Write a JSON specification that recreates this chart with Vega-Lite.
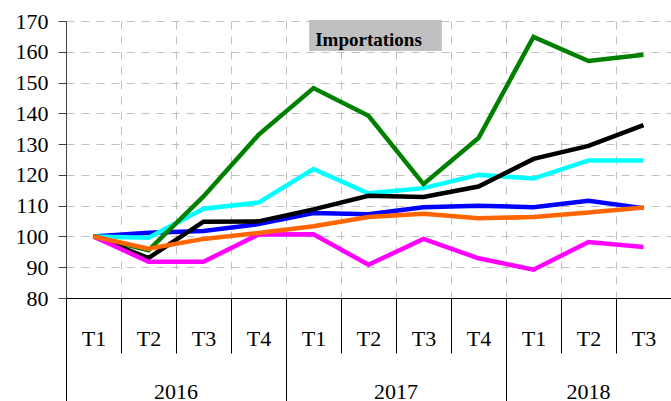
{
  "$schema": "https://vega.github.io/schema/vega-lite/v6.json",
  "autosize": "none",
  "width": 605,
  "height": 277,
  "padding": {"left": 66, "top": 21, "right": 0, "bottom": 103},
  "background": "white",
  "config": {
    "view": {"stroke": null},
    "font": "Liberation Serif"
  },
  "datasets": {
    "series": [
      {"period": "2016 T1", "serie": "A", "value": 100},
      {"period": "2016 T2", "serie": "A", "value": 101.2},
      {"period": "2016 T3", "serie": "A", "value": 101.8},
      {"period": "2016 T4", "serie": "A", "value": 104.0},
      {"period": "2017 T1", "serie": "A", "value": 107.6},
      {"period": "2017 T2", "serie": "A", "value": 107.2},
      {"period": "2017 T3", "serie": "A", "value": 109.5},
      {"period": "2017 T4", "serie": "A", "value": 110.0},
      {"period": "2018 T1", "serie": "A", "value": 109.5},
      {"period": "2018 T2", "serie": "A", "value": 111.6},
      {"period": "2018 T3", "serie": "A", "value": 109.2},
      {"period": "2016 T1", "serie": "B", "value": 100},
      {"period": "2016 T2", "serie": "B", "value": 99.6},
      {"period": "2016 T3", "serie": "B", "value": 109.0},
      {"period": "2016 T4", "serie": "B", "value": 111.0},
      {"period": "2017 T1", "serie": "B", "value": 121.9},
      {"period": "2017 T2", "serie": "B", "value": 114.0},
      {"period": "2017 T3", "serie": "B", "value": 115.7},
      {"period": "2017 T4", "serie": "B", "value": 120.0},
      {"period": "2018 T1", "serie": "B", "value": 118.8},
      {"period": "2018 T2", "serie": "B", "value": 124.7},
      {"period": "2018 T3", "serie": "B", "value": 124.7},
      {"period": "2016 T1", "serie": "C", "value": 100},
      {"period": "2016 T2", "serie": "C", "value": 95.5},
      {"period": "2016 T3", "serie": "C", "value": 113.0},
      {"period": "2016 T4", "serie": "C", "value": 133.0},
      {"period": "2017 T1", "serie": "C", "value": 148.2},
      {"period": "2017 T2", "serie": "C", "value": 139.2},
      {"period": "2017 T3", "serie": "C", "value": 117.0},
      {"period": "2017 T4", "serie": "C", "value": 132.0},
      {"period": "2018 T1", "serie": "C", "value": 164.8},
      {"period": "2018 T2", "serie": "C", "value": 157.0},
      {"period": "2018 T3", "serie": "C", "value": 159.0},
      {"period": "2016 T1", "serie": "D", "value": 100},
      {"period": "2016 T2", "serie": "D", "value": 93.0},
      {"period": "2016 T3", "serie": "D", "value": 104.8},
      {"period": "2016 T4", "serie": "D", "value": 104.9},
      {"period": "2017 T1", "serie": "D", "value": 108.8},
      {"period": "2017 T2", "serie": "D", "value": 113.2},
      {"period": "2017 T3", "serie": "D", "value": 112.8},
      {"period": "2017 T4", "serie": "D", "value": 116.2},
      {"period": "2018 T1", "serie": "D", "value": 125.2},
      {"period": "2018 T2", "serie": "D", "value": 129.4},
      {"period": "2018 T3", "serie": "D", "value": 136.2},
      {"period": "2016 T1", "serie": "E", "value": 100},
      {"period": "2016 T2", "serie": "E", "value": 91.8},
      {"period": "2016 T3", "serie": "E", "value": 91.8},
      {"period": "2016 T4", "serie": "E", "value": 100.6},
      {"period": "2017 T1", "serie": "E", "value": 100.7},
      {"period": "2017 T2", "serie": "E", "value": 90.8},
      {"period": "2017 T3", "serie": "E", "value": 99.2},
      {"period": "2017 T4", "serie": "E", "value": 92.9},
      {"period": "2018 T1", "serie": "E", "value": 89.2},
      {"period": "2018 T2", "serie": "E", "value": 98.2},
      {"period": "2018 T3", "serie": "E", "value": 96.6},
      {"period": "2016 T1", "serie": "F", "value": 100},
      {"period": "2016 T2", "serie": "F", "value": 96.0},
      {"period": "2016 T3", "serie": "F", "value": 99.2},
      {"period": "2016 T4", "serie": "F", "value": 101.1},
      {"period": "2017 T1", "serie": "F", "value": 103.3},
      {"period": "2017 T2", "serie": "F", "value": 106.3},
      {"period": "2017 T3", "serie": "F", "value": 107.4},
      {"period": "2017 T4", "serie": "F", "value": 105.9},
      {"period": "2018 T1", "serie": "F", "value": 106.3},
      {"period": "2018 T2", "serie": "F", "value": 107.8},
      {"period": "2018 T3", "serie": "F", "value": 109.4}
    ],
    "titre": [{"label": "Importations"}]
  },
  "data": {"name": "series"},
  "resolve": {"axis": {"x": "independent", "y": "independent"}},
  "layer": [
    {
      "mark": {"type": "rule", "opacity": 0},
      "encoding": {
        "x": {
          "field": "period", "type": "nominal", "sort": null,
          "scale": {"type": "band", "paddingInner": 0, "paddingOuter": 0},
          "axis": {
            "orient": "bottom", "values": ["2016 T1", "2017 T1", "2018 T1"],
            "bandPosition": 0, "tickExtra": false, "tickSize": 103, "tickColor": "#000000",
            "tickWidth": 1, "labels": false, "domain": false, "grid": false, "title": null
          }
        }
      }
    },
    {
      "mark": {"type": "rule", "opacity": 0},
      "encoding": {
        "x": {
          "field": "period", "type": "nominal", "sort": null,
          "axis": {
            "orient": "bottom", "values": ["2016 T3", "2017 T3", "2018 T2"],
            "ticks": false, "domain": false, "grid": false, "title": null,
            "labelExpr": "split(datum.label, ' ')[0]",
            "labelOffset": {"condition": {"test": "datum.value == '2018 T2'", "value": 0}, "value": -27.5},
            "labelFont": "Liberation Serif", "labelFontSize": 22, "labelColor": "#000000",
            "labelBaseline": "alphabetic", "labelPadding": 100, "labelAngle": 0
          }
        }
      }
    },
    {
      "mark": {"type": "line", "strokeWidth": 4.5, "strokeJoin": "miter"},
      "encoding": {
        "x": {
          "field": "period", "type": "nominal", "sort": null,
          "axis": {
            "orient": "bottom", "tickBand": "extent", "tickSize": 55, "tickColor": "#000000",
            "domainColor": "#000000", "grid": true, "gridDash": [8, 7], "gridColor": "#c0c0c0",
            "labelExpr": "split(datum.label, ' ')[1]", "labelFont": "Liberation Serif",
            "labelFontSize": 22, "labelColor": "#000000", "labelBaseline": "alphabetic",
            "labelPadding": -8, "labelAngle": 0, "title": null
          }
        },
        "y": {
          "field": "value", "type": "quantitative",
          "scale": {"domain": [80, 170], "nice": false, "zero": false},
          "axis": {
            "values": [80, 90, 100, 110, 120, 130, 140, 150, 160, 170],
            "tickSize": 8, "tickColor": "#404040", "domainColor": "#404040",
            "grid": true, "gridDash": [8, 7], "gridColor": "#c0c0c0",
            "labelFont": "Liberation Serif", "labelFontSize": 22, "labelColor": "#000000",
            "labelPadding": 10, "title": null
          }
        },
        "color": {
          "field": "serie", "type": "nominal", "legend": null,
          "scale": {"domain": ["A", "B", "C", "D", "E", "F"],
                    "range": ["#0000ff", "#00ffff", "#008000", "#000000", "#ff00ff", "#ff6600"]}
        }
      }
    },
    {
      "data": {"name": "titre"},
      "mark": {"type": "point", "filled": true, "opacity": 1, "color": "#c0c0c0", "strokeWidth": 0,
               "shape": "M-1,-0.2336H1V0.2336H-1Z", "size": 17600, "xOffset": 7},
      "encoding": {
        "x": {"datum": "2017 T2", "type": "nominal", "axis": null},
        "y": {"datum": 165.3, "type": "quantitative", "axis": null}
      }
    },
    {
      "data": {"name": "titre"},
      "mark": {"type": "text", "font": "Liberation Serif", "fontSize": 19, "fontWeight": "bold",
               "color": "#000000", "baseline": "alphabetic", "align": "center"},
      "encoding": {
        "x": {"datum": "2017 T2", "type": "nominal", "axis": null},
        "y": {"datum": 162, "type": "quantitative", "axis": null},
        "text": {"field": "label"}
      }
    }
  ]
}
